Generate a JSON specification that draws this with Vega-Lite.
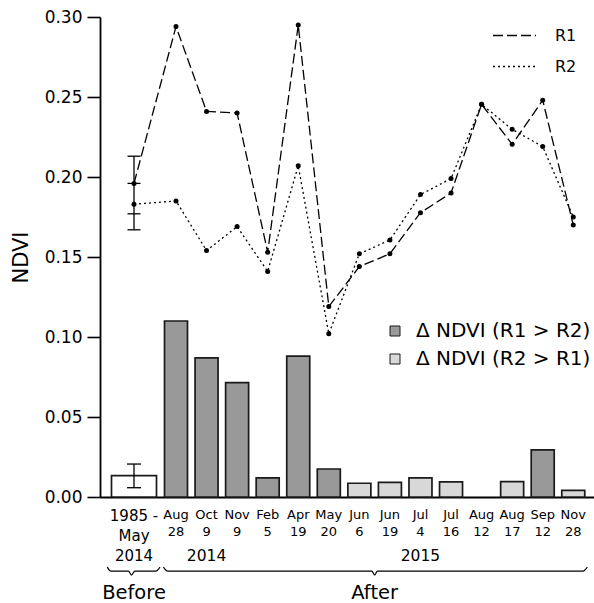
{
  "$schema": "https://vega.github.io/schema/vega-lite/v6.json",
  "autosize": "none",
  "width": 494,
  "height": 480,
  "padding": {"left": 100, "top": 17, "right": 0, "bottom": 106},
  "config": {"view": {"stroke": null}, "font": "DejaVu Sans"},
  "data": {"values": [
    {"i": 0, "label": "1985 -|May|2014", "period": "Before", "R1": 0.196, "R2": 0.183, "dNDVI": 0.0133, "dir": "before", "R1_lo": 0.177, "R1_hi": 0.213, "R2_lo": 0.167, "R2_hi": 0.196, "d_lo": 0.0058, "d_hi": 0.0206},
    {"i": 1, "label": "Aug|28", "period": "After", "R1": 0.294, "R2": 0.185, "dNDVI": 0.110, "dir": "Δ NDVI (R1 > R2)"},
    {"i": 2, "label": "Oct|9", "period": "After", "R1": 0.241, "R2": 0.154, "dNDVI": 0.087, "dir": "Δ NDVI (R1 > R2)"},
    {"i": 3, "label": "Nov|9", "period": "After", "R1": 0.240, "R2": 0.169, "dNDVI": 0.0715, "dir": "Δ NDVI (R1 > R2)"},
    {"i": 4, "label": "Feb|5", "period": "After", "R1": 0.153, "R2": 0.141, "dNDVI": 0.012, "dir": "Δ NDVI (R1 > R2)"},
    {"i": 5, "label": "Apr|19", "period": "After", "R1": 0.295, "R2": 0.207, "dNDVI": 0.088, "dir": "Δ NDVI (R1 > R2)"},
    {"i": 6, "label": "May|20", "period": "After", "R1": 0.119, "R2": 0.102, "dNDVI": 0.0175, "dir": "Δ NDVI (R1 > R2)"},
    {"i": 7, "label": "Jun|6", "period": "After", "R1": 0.144, "R2": 0.152, "dNDVI": 0.0086, "dir": "Δ NDVI (R2 > R1)"},
    {"i": 8, "label": "Jun|19", "period": "After", "R1": 0.152, "R2": 0.1606, "dNDVI": 0.0092, "dir": "Δ NDVI (R2 > R1)"},
    {"i": 9, "label": "Jul|4", "period": "After", "R1": 0.1777, "R2": 0.189, "dNDVI": 0.0119, "dir": "Δ NDVI (R2 > R1)"},
    {"i": 10, "label": "Jul|16", "period": "After", "R1": 0.190, "R2": 0.199, "dNDVI": 0.0094, "dir": "Δ NDVI (R2 > R1)"},
    {"i": 11, "label": "Aug|12", "period": "After", "R1": 0.2454, "R2": 0.2454, "dNDVI": null, "dir": null},
    {"i": 12, "label": "Aug|17", "period": "After", "R1": 0.2204, "R2": 0.2298, "dNDVI": 0.0096, "dir": "Δ NDVI (R2 > R1)"},
    {"i": 13, "label": "Sep|12", "period": "After", "R1": 0.248, "R2": 0.219, "dNDVI": 0.0294, "dir": "Δ NDVI (R1 > R2)"},
    {"i": 14, "label": "Nov|28", "period": "After", "R1": 0.170, "R2": 0.175, "dNDVI": 0.0042, "dir": "Δ NDVI (R2 > R1)"}
  ]},
  "layer": [
    {
      "transform": [{"filter": "datum.i === 0"}],
      "mark": {"type": "bar", "width": 45, "fill": "white", "stroke": "#1a1a1a", "strokeWidth": 1.7},
      "encoding": {
        "x": {"field": "i", "type": "quantitative",
          "scale": {"type": "linear", "domain": [-0.81, 0, 1, 14.52], "range": [0, 34, 76, 494], "nice": false, "zero": false},
          "axis": {"values": [0], "ticks": false, "labels": false, "grid": false,
            "domainColor": "black", "domainWidth": 1.8, "title": null}},
        "y": {"field": "dNDVI", "type": "quantitative",
          "scale": {"domain": [0, 0.3], "nice": false, "zero": true},
          "axis": {"values": [0, 0.05, 0.1, 0.15, 0.2, 0.25, 0.3], "format": ".2f", "grid": false,
            "tickSize": 13, "tickWidth": 1.6, "tickColor": "black", "domainColor": "black", "domainWidth": 1.8,
            "labelFontSize": 17, "labelPadding": 5, "labelColor": "black", "labelFlush": false, "labelOverlap": false,
            "title": "NDVI", "titleFontSize": 21, "titleFontWeight": "normal", "titleColor": "black", "titlePadding": 13}}
      }
    },
    {
      "transform": [{"filter": "datum.i > 0 && datum.dNDVI != null"}],
      "mark": {"type": "bar", "width": 23, "stroke": "#1a1a1a", "strokeWidth": 1.7},
      "encoding": {
        "x": {"field": "i", "type": "quantitative"},
        "y": {"field": "dNDVI", "type": "quantitative"},
        "fill": {"field": "dir", "type": "nominal",
          "scale": {"domain": ["Δ NDVI (R1 > R2)", "Δ NDVI (R2 > R1)"], "range": ["#999999", "#d8d8d8"]},
          "legend": {"title": null, "orient": "none", "legendX": 285, "legendY": 304, "padding": 0,
            "symbolType": "square", "symbolSize": 100, "symbolStrokeColor": "#1a1a1a", "symbolStrokeWidth": 1,
            "labelFontSize": 20, "labelColor": "black", "labelOffset": 11, "rowPadding": 8, "labelLimit": 300}}
      }
    },
    {
      "transform": [{"filter": "datum.i === 0"}],
      "mark": {"type": "rule", "color": "black", "strokeWidth": 1.3},
      "encoding": {
        "x": {"field": "i", "type": "quantitative"},
        "y": {"field": "d_lo", "type": "quantitative"},
        "y2": {"field": "d_hi"}
      }
    },
    {
      "transform": [{"filter": "datum.i === 0"}, {"fold": ["d_lo", "d_hi"], "as": ["k", "v"]}],
      "mark": {"type": "tick", "orient": "horizontal", "size": 14, "thickness": 1.3, "color": "black", "opacity": 1},
      "encoding": {
        "x": {"field": "i", "type": "quantitative"},
        "y": {"field": "v", "type": "quantitative"}
      }
    },
    {
      "transform": [{"fold": ["R1", "R2"], "as": ["series", "ndvi"]}],
      "mark": {"type": "line", "color": "black", "strokeWidth": 1.3},
      "encoding": {
        "x": {"field": "i", "type": "quantitative"},
        "y": {"field": "ndvi", "type": "quantitative"},
        "strokeDash": {"field": "series", "type": "nominal",
          "scale": {"domain": ["R1", "R2"], "range": [[10, 4], [2, 3]]},
          "legend": {"title": null, "orient": "none", "legendX": 392, "legendY": -4, "padding": 0,
            "symbolType": "stroke", "symbolSize": 1849, "symbolStrokeWidth": 1.3, "symbolStrokeColor": "black",
            "labelFontSize": 16, "labelColor": "black", "labelOffset": 18, "rowPadding": -19}}
      }
    },
    {
      "transform": [{"fold": ["R1", "R2"], "as": ["series", "ndvi"]}],
      "mark": {"type": "circle", "color": "black", "size": 25, "opacity": 1},
      "encoding": {
        "x": {"field": "i", "type": "quantitative"},
        "y": {"field": "ndvi", "type": "quantitative"}
      }
    },
    {
      "transform": [{"filter": "datum.i === 0"}],
      "mark": {"type": "rule", "color": "black", "strokeWidth": 1.3},
      "encoding": {
        "x": {"field": "i", "type": "quantitative"},
        "y": {"field": "R2_lo", "type": "quantitative"},
        "y2": {"field": "R1_hi"}
      }
    },
    {
      "transform": [{"filter": "datum.i === 0"}, {"fold": ["R1_lo", "R1_hi", "R2_lo", "R2_hi"], "as": ["k", "v"]}],
      "mark": {"type": "tick", "orient": "horizontal", "size": 13, "thickness": 1.3, "color": "black", "opacity": 1},
      "encoding": {
        "x": {"field": "i", "type": "quantitative"},
        "y": {"field": "v", "type": "quantitative"}
      }
    },
    {
      "transform": [{"filter": "datum.i > 0"}],
      "mark": {"type": "text", "fontSize": 13, "color": "black", "baseline": "top", "align": "center", "lineBreak": "|", "lineHeight": 17.7},
      "encoding": {
        "x": {"field": "i", "type": "quantitative"},
        "y": {"datum": -0.0072},
        "text": {"field": "label"}
      }
    },
    {
      "transform": [{"filter": "datum.i === 0"}],
      "mark": {"type": "text", "fontSize": 15, "color": "black", "baseline": "top", "align": "center", "lineBreak": "|", "lineHeight": 20.3},
      "encoding": {
        "x": {"field": "i", "type": "quantitative"},
        "y": {"datum": -0.0072},
        "text": {"field": "label"}
      }
    },
    {
      "data": {"values": [{"year": "2014", "i": 2}, {"year": "2015", "i": 9}]},
      "mark": {"type": "text", "fontSize": 15.5, "color": "black", "baseline": "middle", "align": "center"},
      "encoding": {
        "x": {"field": "i", "type": "quantitative"},
        "y": {"datum": -0.0366},
        "text": {"field": "year"}
      }
    },
    {
      "data": {"values": [{"period": "Before", "i": 0}, {"period": "After", "i": 7.5}]},
      "mark": {"type": "text", "fontSize": 19.5, "color": "black", "baseline": "middle", "align": "center"},
      "encoding": {
        "x": {"field": "i", "type": "quantitative"},
        "y": {"datum": -0.06},
        "text": {"field": "period"}
      }
    },
    {
      "data": {"values": [
        {"brace": "Before", "bx": -0.762, "by": -0.0438},
        {"brace": "Before", "bx": -0.66, "by": -0.0463},
        {"brace": "Before", "bx": -0.16, "by": -0.0463},
        {"brace": "Before", "bx": -0.07, "by": -0.0488},
        {"brace": "Before", "bx": 0.02, "by": -0.0463},
        {"brace": "Before", "bx": 0.52, "by": -0.0463},
        {"brace": "Before", "bx": 0.62, "by": -0.0438},
        {"brace": "After", "bx": 0.70, "by": -0.0438},
        {"brace": "After", "bx": 0.80, "by": -0.0463},
        {"brace": "After", "bx": 7.41, "by": -0.0463},
        {"brace": "After", "bx": 7.5, "by": -0.0488},
        {"brace": "After", "bx": 7.59, "by": -0.0463},
        {"brace": "After", "bx": 14.32, "by": -0.0463},
        {"brace": "After", "bx": 14.46, "by": -0.0438}
      ]},
      "mark": {"type": "line", "color": "black", "strokeWidth": 1.2, "interpolate": "monotone"},
      "encoding": {
        "x": {"field": "bx", "type": "quantitative"},
        "y": {"field": "by", "type": "quantitative"},
        "detail": {"field": "brace"}
      }
    }
  ]
}
